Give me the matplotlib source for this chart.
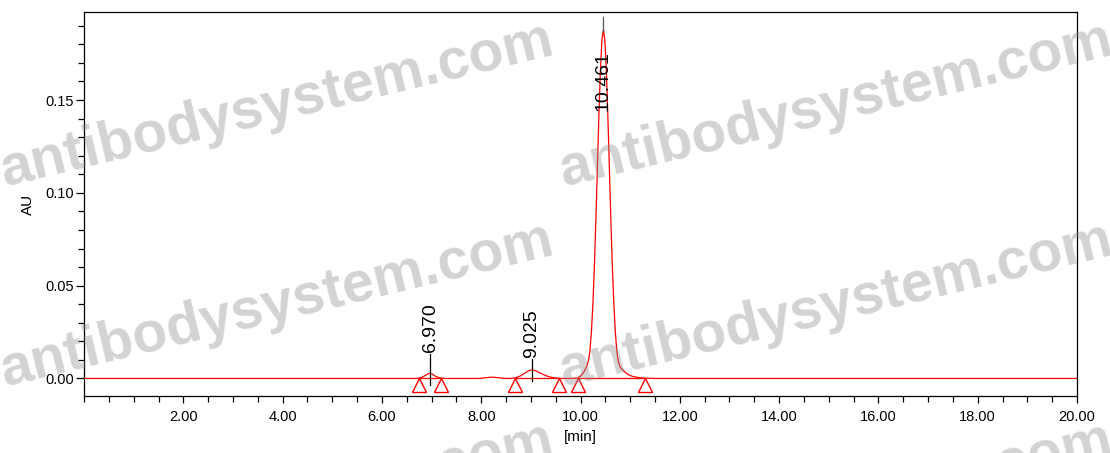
import matplotlib.pyplot as plt
from matplotlib.ticker import MultipleLocator, FixedLocator, FuncFormatter

# chromatogram trace (min, AU)
trace_time = [
    0.00, 6.60, 6.70, 6.80, 6.88, 6.94, 6.97, 7.01, 7.07, 7.15, 7.25,
    7.95, 8.10, 8.22, 8.35, 8.50, 8.60,
    8.70, 8.80, 8.90, 8.97, 9.025, 9.10, 9.20, 9.30, 9.40, 9.50, 9.60,
    9.80, 9.94, 10.01, 10.08, 10.12, 10.16, 10.19, 10.22, 10.25, 10.28,
    10.31, 10.34, 10.37, 10.40, 10.43, 10.461, 10.49, 10.52, 10.55, 10.58,
    10.61, 10.64, 10.67, 10.70, 10.73, 10.76, 10.80, 10.87, 10.96, 11.06,
    11.16, 11.30, 11.50, 20.00,
]
trace_au = [
    0.0000, 0.0000, 0.0000, 0.0005, 0.0017, 0.0026, 0.0027, 0.0024, 0.0013, 0.0004, 0.0000,
    0.0000, 0.0004, 0.0007, 0.0004, 0.0000, 0.0000,
    0.0004, 0.0015, 0.0033, 0.0043, 0.0046, 0.0041, 0.0028, 0.0015, 0.0007, 0.0002, 0.0000,
    0.0000, 0.0002, 0.0015, 0.0040, 0.0062, 0.0095, 0.0150, 0.0254, 0.0407, 0.0610,
    0.0861, 0.1140, 0.1419, 0.1659, 0.1822, 0.1880, 0.1822, 0.1659, 0.1419, 0.1140,
    0.0861, 0.0610, 0.0407, 0.0254, 0.0150, 0.0092, 0.0060, 0.0040, 0.0020, 0.0010,
    0.0005, 0.0001, 0.0000, 0.0000,
]

# integrated peaks
peak_rt = [6.970, 9.025, 10.461]
peak_labels = ["6.970", "9.025", "10.461"]
peak_start = [6.755, 8.686, 9.954]
peak_end = [7.190, 9.571, 11.296]
marker_times = [6.755, 7.190, 8.686, 9.571, 9.954, 11.296]

x_ticks = [2, 4, 6, 8, 10, 12, 14, 16, 18, 20]
y_ticks = [0.00, 0.05, 0.10, 0.15]

plt.rcParams["font.family"] = ["Liberation Sans", "DejaVu Sans"]

fig = plt.figure(figsize=(11.1, 4.53), dpi=100)
ax = fig.add_axes([0.0757, 0.1265, 0.8946, 0.8481])

ax.plot(trace_time, trace_au, color="#ff0000", lw=0.9, zorder=3)
for s, e in zip(peak_start, peak_end):
    ax.plot([s, e], [0, 0], color="#ff0000", lw=0.9, zorder=3)
ax.plot(marker_times, [-0.0038] * len(marker_times), ls="none", marker="^",
        ms=10.5, mfc="none", mec="#ff0000", mew=1.0, zorder=4)

# peak labels
ax.plot([6.970, 6.970], [-0.0034, 0.0133], color="black", lw=0.9, zorder=4)
ax.text(6.970, 0.0144, peak_labels[0], rotation=90, ha="center", va="bottom", fontsize=14)
ax.plot([9.025, 9.025], [-0.0012, 0.0107], color="black", lw=0.9, zorder=4)
ax.text(9.025, 0.0110, peak_labels[1], rotation=90, ha="center", va="bottom", fontsize=14)
ax.plot([10.461, 10.461], [0.1870, 0.1945], color="#555555", lw=0.9, zorder=4)
ax.text(10.461, 0.1765, peak_labels[2], rotation=90, ha="center", va="top", fontsize=14, zorder=5)

ax.set_xlim(0, 20)
ax.set_ylim(-0.0093, 0.1977)
ax.xaxis.set_major_locator(FixedLocator(x_ticks))
ax.xaxis.set_minor_locator(MultipleLocator(0.5))
ax.yaxis.set_major_locator(FixedLocator(y_ticks))
ax.yaxis.set_minor_locator(MultipleLocator(0.01))
ax.xaxis.set_major_formatter(FuncFormatter(lambda v, p: f"{v:.2f}"))
ax.yaxis.set_major_formatter(FuncFormatter(lambda v, p: f"{v:.2f}"))
ax.tick_params(axis="x", which="major", direction="out", length=5, width=0.9, labelsize=10.5, pad=5)
ax.tick_params(axis="x", which="minor", direction="out", length=4, width=0.9)
ax.tick_params(axis="y", which="major", direction="out", length=6, width=0.9, labelsize=10.5, pad=1)
ax.tick_params(axis="y", which="minor", direction="out", length=4, width=0.9)
for sp in ax.spines.values():
    sp.set_linewidth(0.9)

ax.set_xlabel("[min]", fontsize=11)
ax.xaxis.set_label_coords(0.5, -0.088)
ax.set_ylabel("AU", fontsize=11)
ax.yaxis.set_label_coords(-0.049, 0.499)

# watermark
wm_x = [5, 564]
wm_y = [186, 386, 586]
for yy in wm_y:
    for xx in wm_x:
        fig.text(xx / 1110, 1 - yy / 453, "antibodysystem.com", rotation=13.5,
                 rotation_mode="anchor", ha="left", va="baseline", fontsize=41,
                 fontweight="bold", color="0.55", alpha=0.38, zorder=10)

fig.savefig("out.png", dpi=100)
